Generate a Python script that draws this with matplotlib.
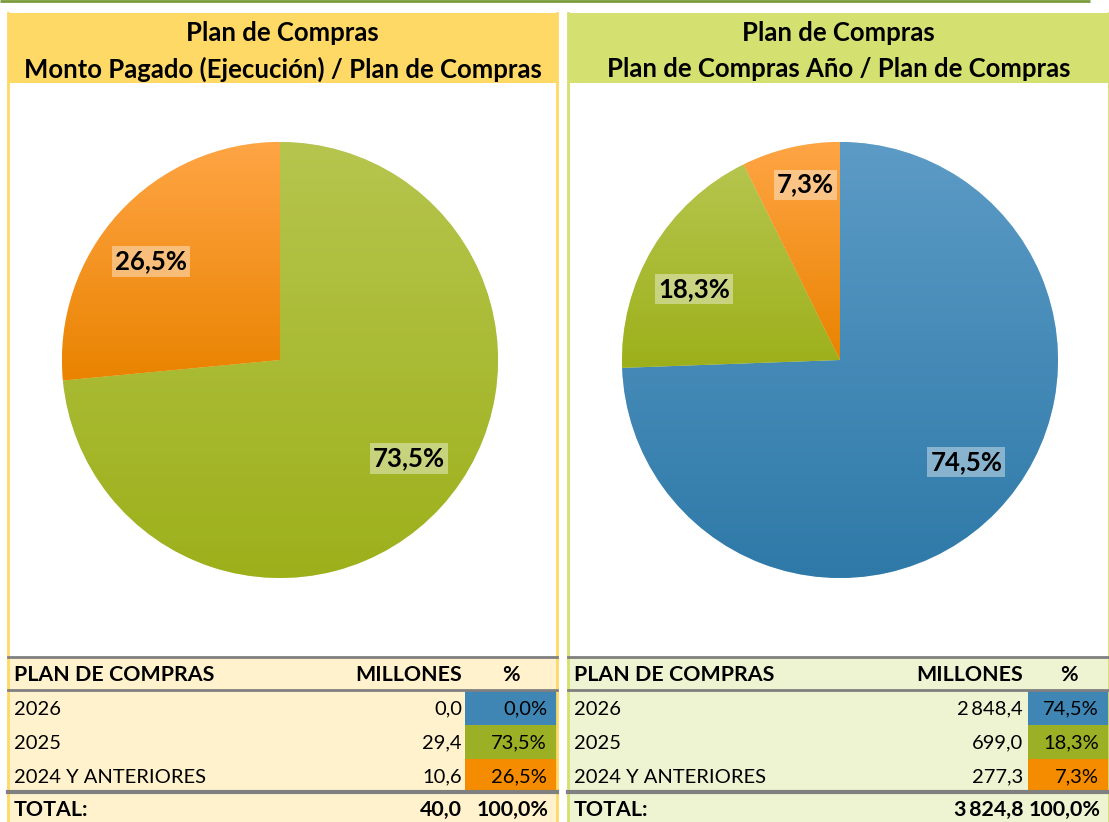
import numpy as np
import matplotlib
matplotlib.use("Agg")
import matplotlib.pyplot as plt
from matplotlib.patches import Rectangle
from matplotlib.colors import LinearSegmentedColormap

plt.rcParams['font.family'] = ['Lato', 'DejaVu Sans']

# ---------------- data ----------------
categories = ['2026', '2025', '2024 Y ANTERIORES']
left_millones = [0.0, 29.4, 10.6]
left_pct = [0.0, 73.5, 26.5]
left_total = '40,0'
right_millones = [2848.4, 699.0, 277.3]
right_pct = [74.5, 18.3, 7.3]
right_total = '3\u2009824,8'

left_title = ['Plan de Compras', 'Monto Pagado (Ejecución) / Plan de Compras']
right_title = ['Plan de Compras', 'Plan de Compras Año / Plan de Compras']

# colours: (flat, top-gradient, bottom-gradient)
blue = ('#3F86B5', '#5C9BC6', '#2E79A8')
green = ('#9BB024', '#B6C54E', '#9DB01A')
orange = ('#F58C00', '#FFA545', '#E98300')
slice_colors = [blue, green, orange]

W, H = 1109, 822
fig = plt.figure(figsize=(W / 100, H / 100), dpi=100)
bg = fig.add_axes([0, 0, 1, 1])
bg.set_xlim(0, W)
bg.set_ylim(H, 0)
bg.axis('off')


def fmt_num(v):
    s = f'{v:,.1f}'
    return s.replace(',', '\u2009').replace('.', ',')


def fmt_pct(p):
    return f'{p:.1f}%'.replace('.', ',')


# top green line
bg.plot([0, 1090], [1, 1], color='#7B9A3C', lw=2, solid_capstyle='butt')

FS = 14.5
FSB = 15.4


def panel(x0, x1, head_col, border_col, table_col, titles, millones, pcts, total,
          num_right, pct_x0):
    # header
    bg.add_patch(Rectangle((x0, 13), x1 - x0, 70, facecolor=head_col, edgecolor='none'))
    cx = (x0 + x1) / 2
    bg.text(cx, 33, titles[0], ha='center', va='center', fontsize=18.5, fontweight='bold')
    bg.text(cx, 69, titles[1], ha='center', va='center', fontsize=18.5, fontweight='bold')
    # borders
    bg.plot([x0, x0], [13, H], color=border_col, lw=2)
    bg.plot([x1, x1], [13, H], color=border_col, lw=2)
    # table background
    bg.add_patch(Rectangle((x0, 657), x1 - x0, H - 657, facecolor=table_col, edgecolor='none'))
    # gray lines
    bg.plot([x0, x1], [657, 657], color='#808080', lw=2)
    bg.plot([x0, x1], [690, 690], color='#808080', lw=2)
    bg.plot([x0, x1], [792, 792], color='#808080', lw=3)
    # header row
    bg.text(x0 + 6, 675, 'PLAN DE COMPRAS', ha='left', va='center', fontsize=FSB, fontweight='bold')
    bg.text(num_right, 675, 'MILLONES', ha='right', va='center', fontsize=FSB, fontweight='bold')
    bg.text((pct_x0 + x1) / 2, 675, '%', ha='center', va='center', fontsize=FSB, fontweight='bold')
    # rows
    for i, (cat, m, p) in enumerate(zip(categories, millones, pcts)):
        y0 = 691 + i * 34
        bg.add_patch(Rectangle((pct_x0, y0), x1 - pct_x0, 34,
                               facecolor=slice_colors[i][0], edgecolor='none'))
        yc = y0 + 18
        bg.text(x0 + 6, yc, cat, ha='left', va='center', fontsize=FS)
        bg.text(num_right, yc, fmt_num(m), ha='right', va='center', fontsize=FS)
        bg.text(x1 - 10, yc, fmt_pct(p), ha='right', va='center', fontsize=FS)
    bg.text(x0 + 6, 810, 'TOTAL:', ha='left', va='center', fontsize=FSB, fontweight='bold')
    bg.text(num_right, 810, total, ha='right', va='center', fontsize=FSB, fontweight='bold')
    bg.text(x1 - 8, 810, '100,0%', ha='right', va='center', fontsize=FSB, fontweight='bold')


panel(8, 557, '#FFD966', '#FFD966', '#FFF2CC', left_title, left_millones, left_pct,
      left_total, 462, 465)
panel(568, 1109, '#D4E06F', '#D4E06F', '#EEF3D2', right_title, right_millones, right_pct,
      right_total, 1023, 1028)


def draw_pie(cx, cy, r, pcts):
    ax = fig.add_axes([(cx - r) / W, 1 - (cy + r) / H, 2 * r / W, 2 * r / H])
    wedges, _ = ax.pie(pcts, colors=[c[0] for c in slice_colors], startangle=90,
                       counterclock=False, radius=1,
                       wedgeprops=dict(edgecolor='white', linewidth=0.4))
    for w, p, c in zip(wedges, pcts, slice_colors):
        if p <= 0:
            continue
        v = w.get_path().vertices
        xmin, xmax = v[:, 0].min(), v[:, 0].max()
        ymin, ymax = v[:, 1].min(), v[:, 1].max()
        cmap = LinearSegmentedColormap.from_list('g', [c[2], c[1]])
        grad = np.linspace(0, 1, 256).reshape(-1, 1)
        im = ax.imshow(grad, extent=[xmin, xmax, ymin, ymax], origin='lower',
                       cmap=cmap, aspect='auto', zorder=w.get_zorder() + 0.1,
                       interpolation='bicubic')
        im.set_clip_path(w)
        # label (best-fit style placement)
        mid = (w.theta1 + w.theta2) / 2
        if p > 10:
            theta, d = np.deg2rad(mid + 5), 0.745
        else:
            theta, d = np.deg2rad(mid - 2), 0.82
        ax.text(d * np.cos(theta), d * np.sin(theta), fmt_pct(p), ha='center', va='center',
                fontsize=18.5, fontweight='bold', zorder=10,
                bbox=dict(boxstyle='square,pad=0.12', facecolor='white', alpha=0.4,
                          edgecolor='none'))
    ax.set_xlim(-1, 1)
    ax.set_ylim(-1, 1)
    ax.set_aspect('equal')
    ax.axis('off')


draw_pie(280, 360, 218, left_pct)
draw_pie(840, 360, 218, right_pct)

fig.savefig('out.png', dpi=100)
